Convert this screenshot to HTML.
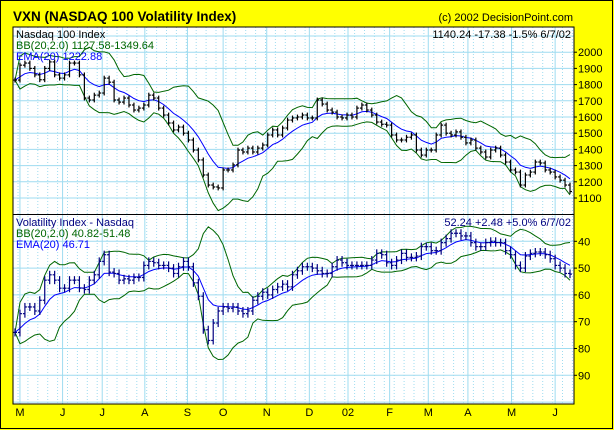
<!DOCTYPE html>
<html><head><meta charset="utf-8"><style>
html,body{margin:0;padding:0;background:#ffff00}
svg{display:block;font-family:"Liberation Sans",sans-serif}
</style></head><body>
<svg id="c" width="614" height="430" viewBox="0 0 614 430" xmlns="http://www.w3.org/2000/svg">
<rect x="0.5" y="0.5" width="612" height="428" fill="#ffff00" stroke="#000"/>
<text x="13" y="21" font-size="13.5" font-weight="bold">VXN (NASDAQ 100 Volatility Index)</text>
<text x="573" y="21" font-size="11" text-anchor="end">(c) 2002 DecisionPoint.com</text>
<rect x="13" y="27" width="561" height="377" fill="#fff"/>
<g id="grid"></g>
<g id="marks"></g>
<line x1="13" y1="214.5" x2="574" y2="214.5" stroke="#000"/>
<rect x="13" y="27" width="561" height="377" fill="none" stroke="#000"/>
<g font-size="11">
<text x="16" y="38">Nasdaq 100 Index</text>
<text x="16" y="49" fill="#006600">BB(20,2.0) 1127.58-1349.64</text>
<text x="16" y="60" fill="#0000ff">EMA(20) 1222.88</text>
<text x="571" y="38" text-anchor="end">1140.24  -17.38  -1.5%  6/7/02</text>
<text x="16" y="226" fill="#000080">Volatility Index - Nasdaq</text>
<text x="16" y="237" fill="#006600">BB(20,2.0) 40.82-51.48</text>
<text x="16" y="248" fill="#0000ff">EMA(20) 46.71</text>
<text x="571" y="226" text-anchor="end" fill="#000080">52.24  +2.48  +5.0%  6/7/02</text>
</g>
<g id="axes" font-size="11"></g>
</svg>
<script>
const nasdaq=[1828,1920,1933,1900,1860,1830,1900,1940,1860,1840,1860,1933,1933,1860,1717,1705,1735,1748,1840,1815,1705,1692,1717,1674,1643,1655,1674,1735,1717,1655,1612,1563,1520,1538,1500,1458,1396,1335,1242,1180,1168,1162,1273,1273,1304,1396,1384,1408,1384,1408,1427,1489,1520,1489,1532,1581,1594,1600,1612,1594,1594,1705,1680,1643,1630,1600,1594,1612,1600,1655,1674,1643,1612,1569,1555,1550,1489,1458,1458,1475,1489,1396,1365,1396,1396,1489,1550,1500,1489,1508,1475,1440,1458,1408,1384,1353,1396,1408,1365,1322,1273,1260,1180,1242,1260,1322,1316,1273,1260,1230,1210,1180,1140];
const vxn=[74,67,64.5,64.5,66,62,54.5,52.5,54.5,57.5,57.5,54.5,54.5,57.5,58,54.5,52.5,47.5,45,51.5,52,54.5,54,54.5,53.5,53.5,49,47.5,48,49,49,50,52,49.5,47.5,49.5,55.5,60.5,73,77,70.5,66,64.5,65,64.5,66,67,66,62,60.5,59,60,58,57,56,57,52.5,51,49.5,49.5,50,51,52,52,49.5,47,48,49,49,49,49,49,47,44.5,45,48,49,47,44.5,46,46,45.5,42,42,43.5,43.5,40.5,39,37,37,38,38,40.5,42,42,40.5,40,40.5,40.5,43.5,45,49,50,45.5,44.5,44,44,45,46.5,49,50,52,52.24];
const topTicks=[2000,1900,1800,1700,1600,1500,1400,1300,1200,1100];
const botTicks=[40,50,60,70,80,90];
const monthLabels=["M","J","J","A","S","O","N","D","02","F","M","A","M","J"];
const monthIdx=[1,9.6,17.6,26.2,34.8,42,50.8,59.4,67.2,75.6,83.4,91.4,100.2,109];
const NS="http://www.w3.org/2000/svg";
const X0=15,X1=570;
const N=nasdaq.length;
function xS(i){return X0+(X1-X0)*i/(N-1);}
function yTop(v){return 198-(v-1100)*0.162;}
function yBot(v){return 241.3+(v-40)*2.68;}
function mk(tag,attrs,parent){const e=document.createElementNS(NS,tag);for(const k in attrs)e.setAttribute(k,attrs[k]);parent.appendChild(e);return e;}
const grid=document.getElementById('grid'),marks=document.getElementById('marks'),axes=document.getElementById('axes');
for(let x=18;x<574;x+=9.9){const l=mk('line',{x1:x,y1:27,x2:x,y2:404,stroke:'#9fdcf0','stroke-dasharray':'1,2'},grid);

}
monthIdx.forEach((m,i)=>{const x=xS(m);
const l=mk('line',{x1:x,y1:27,x2:x,y2:404,stroke:'#9fdcf0'},grid);


const t=mk('text',{x:x,y:416,'text-anchor':'middle'},axes);t.textContent=monthLabels[i];

});
[2100].concat(topTicks).forEach(v=>{const y=yTop(v);const l=mk('line',{x1:13,y1:y,x2:574,y2:y,stroke:'#9fdcf0'},grid);

});
topTicks.forEach(v=>{const y=yTop(v);const t=mk('text',{x:578,y:y+4},axes);t.textContent=v;


mk('line',{x1:574,y1:y,x2:577,y2:y,stroke:'#000'},axes);});
[30,100].concat(botTicks).forEach(v=>{const y=yBot(v);if(y>404||y<214)return;const l=mk('line',{x1:13,y1:y,x2:574,y2:y,stroke:'#9fdcf0'},grid);

});
botTicks.forEach(v=>{const y=yBot(v);const t=mk('text',{x:578,y:y+4},axes);t.textContent=v;


mk('line',{x1:574,y1:y,x2:577,y2:y,stroke:'#000'},axes);});
function ema(a,p){const k=2/(p+1);const r=[];let e=a[0];a.forEach((v,i)=>{e=i?v*k+e*(1-k):v;r.push(e);});return r;}
function bb(a,p){const up=[],lo=[];a.forEach((v,i)=>{const w=a.slice(Math.max(0,i-p+1),i+1);const m=w.reduce((s,x)=>s+x,0)/w.length;
const sd=Math.sqrt(w.reduce((s,x)=>s+(x-m)*(x-m),0)/w.length);up.push(m+2.2*sd);lo.push(m-2.2*sd);});return[up,lo];}
function path(a,ys){return a.map((v,i)=>(i?'L':'M')+xS(i).toFixed(1)+' '+ys(v).toFixed(1)).join('');}
function panel(data,ys,color,name,clipTop,clipBot,minSpread){
const [u,l]=bb(data,9);const e=ema(data,8);
[u,l].forEach(b=>{const p=mk('path',{d:path(b,v=>Math.max(clipTop,Math.min(clipBot,ys(v)))),fill:'none',stroke:'#006600','stroke-width':1},marks);

});
const pe=mk('path',{d:path(e,ys),fill:'none',stroke:'#0000ff','stroke-width':1},marks);


data.forEach((v,i)=>{const prev=i?data[i-1]:v;const x=xS(i);
const hi=Math.max(v,prev)+minSpread,lo=Math.min(v,prev)-minSpread;
const y1=Math.max(clipTop,Math.min(ys(hi),ys(lo))),y2=Math.min(clipBot,Math.max(ys(hi),ys(lo)));
const g=mk('g',{stroke:color,'stroke-width':1.2},marks);


mk('line',{x1:x,y1:y1,x2:x,y2:y2},g);
mk('line',{x1:x-2,y1:ys(prev),x2:x,y2:ys(prev)},g);
mk('line',{x1:x,y1:ys(v),x2:x+2,y2:ys(v)},g);});}
panel(nasdaq,yTop,'#000','nasdaq',28,214,15);
panel(vxn,yBot,'#000080','vxn',215,403,1.5);
</script>
</body></html>
